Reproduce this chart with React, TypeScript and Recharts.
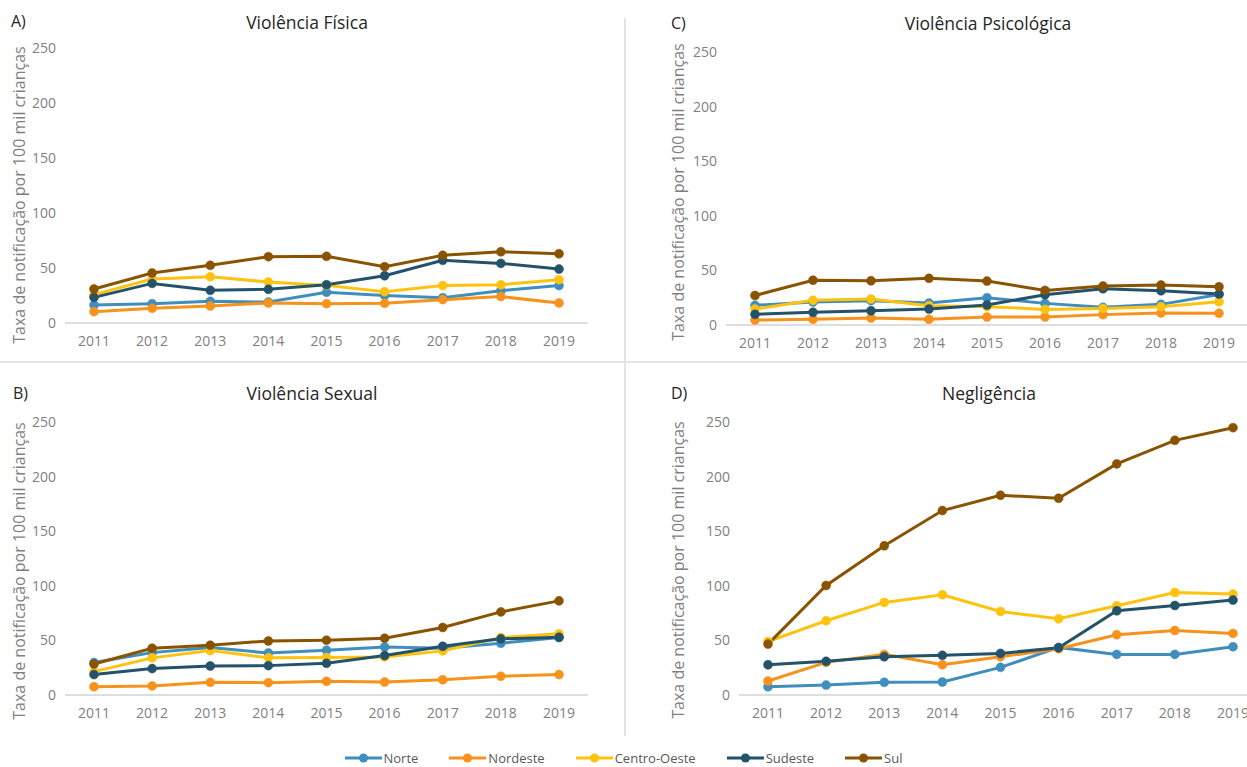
import React from 'react';
import { LineChart, Line, XAxis, YAxis, Legend } from 'recharts';

const years = ['2011', '2012', '2013', '2014', '2015', '2016', '2017', '2018', '2019'];
const yTicks = [0, 50, 100, 150, 200, 250];

const regions = ['Norte', 'Nordeste', 'Centro-Oeste', 'Sudeste', 'Sul'];
const regionColors = ['#3f8ebe', '#f7921c', '#ffc30f', '#23526a', '#8a5300'];

// A) Violência Física
const fisNorte = [16.4, 17.6, 19.7, 19, 27.9, 25, 23, 29.4, 34];
const fisNordeste = [10.3, 13.3, 15.5, 18.2, 17.6, 17.9, 21.2, 24, 18.2];
const fisCentroOeste = [25.8, 40, 42, 37.3, 34.2, 28.5, 34, 34.8, 39.4];
const fisSudeste = [23.3, 36, 29.7, 30.6, 34.8, 43, 57, 54.2, 49];
const fisSul = [30.9, 45.5, 52.4, 60.3, 60.6, 51.2, 61.5, 64.8, 63];

// B) Violência Sexual
const sexNorte = [29.7, 38.8, 43.4, 38.5, 41, 44, 42.8, 47.4, 52.6];
const sexNordeste = [7.6, 8.3, 11.6, 11.3, 12.5, 11.9, 14, 17.1, 18.7];
const sexCentroOeste = [21.4, 34, 40.7, 34, 34.3, 34.9, 40.4, 52.6, 56];
const sexSudeste = [18.7, 24.2, 26.6, 26.9, 29, 36.1, 44.6, 51.4, 52.9];
const sexSul = [28.4, 42.8, 45.6, 49.5, 50.2, 52, 61.8, 76.1, 86.2];

// C) Violência Psicológica
const psiNorte = [18, 21, 22.3, 20.1, 25, 19.8, 16.2, 18.9, 28];
const psiNordeste = [4.6, 5.2, 6.4, 5.2, 7.3, 7.3, 9.5, 11, 10.7];
const psiCentroOeste = [14.6, 22.6, 23.8, 17.7, 16.8, 14.3, 15.2, 16.8, 21.3];
const psiSudeste = [9.8, 11.6, 13.1, 14.6, 18.3, 27.7, 33.2, 31.4, 28.4];
const psiSul = [27, 41, 40.5, 42.7, 40.2, 31.7, 35.7, 36.6, 35];

// D) Negligência
const negNorte = [7.6, 9.1, 11.6, 11.9, 25.3, 43.6, 37.2, 37.2, 44.2];
const negNordeste = [12.8, 29.9, 37.2, 27.7, 35, 42.4, 55.2, 59.1, 56.4];
const negCentroOeste = [49, 68, 84.8, 91.8, 76.5, 69.8, 81.7, 93.9, 92.4];
const negSudeste = [27.7, 30.8, 35, 36.3, 38.1, 43.3, 77.1, 82, 86.9];
const negSul = [46.6, 100.3, 136.6, 168.9, 182.9, 180.2, 211.6, 233.2, 244.8];

const buildData = (series: number[][]) =>
  years.map((year, i) => {
    const row: any = { year };
    regions.forEach((r, k) => {
      row[r] = series[k][i];
    });
    return row;
  });

const FONT = '"Open Sans", sans-serif';
const GRAY = '#7f7f7f';
const Y_LABEL = 'Taxa de notificação por 100 mil crianças';

// keep the legend in series order (recharts sorts it by name otherwise)
const renderLegend = ({ payload }: any) => {
  const items = [...(payload || [])].sort(
    (a: any, b: any) => regions.indexOf(a.value) - regions.indexOf(b.value)
  );
  return (
    <div
      style={{
        display: 'flex',
        justifyContent: 'center',
        alignItems: 'center',
        gap: 31,
        height: 18,
        lineHeight: '18px',
        fontFamily: FONT,
        fontSize: 13,
        color: '#595959',
      }}
    >
      {items.map((p: any) => (
        <div key={p.value} style={{ display: 'flex', alignItems: 'center' }}>
          <svg width={37} height={10}>
            <line x1={0} y1={5} x2={37} y2={5} stroke={p.color} strokeWidth={3} />
            <circle cx={18.5} cy={5} r={4.5} fill={p.color} />
          </svg>
          <span style={{ marginLeft: 2 }}>{p.value}</span>
        </div>
      ))}
    </div>
  );
};

interface PanelProps {
  data: any[];
  left: number;
  top: number;
  width: number;
  height: number;
  margin: { top: number; right: number; bottom: number; left: number };
  labelX: number;
  labelY: number;
  withLegend?: boolean;
}

const Panel: React.FC<PanelProps> = ({ data, left, top, width, height, margin, labelX, labelY, withLegend }) => {
  const yLabel = () => (
    <text
      x={labelX}
      y={labelY}
      transform={`rotate(-90, ${labelX}, ${labelY})`}
      textAnchor="middle"
      dominantBaseline="central"
      fill={GRAY}
      fontSize={16}
      fontFamily={FONT}
    >
      {Y_LABEL}
    </text>
  );

  return (
    <div style={{ position: 'absolute', left, top }}>
      <LineChart width={width} height={height} data={data} margin={margin}>
        <XAxis
          dataKey="year"
          padding={{ left: 29, right: 29 }}
          tickLine={false}
          axisLine={{ stroke: '#dedede', strokeWidth: 2 }}
          tickMargin={7}
          height={30}
          tick={{ fontSize: 14, fill: GRAY, fontFamily: FONT }}
          interval={0}
        />
        <YAxis
          domain={[0, 250]}
          ticks={yTicks}
          width={60}
          tickLine={false}
          axisLine={false}
          tickMargin={3}
          tick={{ fontSize: 14, fill: GRAY, fontFamily: FONT }}
          label={yLabel}
        />
        {regions.map((r, k) => (
          <Line
            key={r}
            type="linear"
            dataKey={r}
            name={r}
            stroke={regionColors[k]}
            strokeWidth={3}
            dot={{ r: 4.5, fill: regionColors[k], stroke: regionColors[k], strokeWidth: 0.5 }}
            isAnimationActive={false}
          />
        ))}
        {withLegend && (
          <Legend
            layout="horizontal"
            verticalAlign="middle"
            align="center"
            content={renderLegend}
            wrapperStyle={{ position: 'absolute', left: 0, top: 749 - top, width: 1247, height: 18 }}
          />
        )}
      </LineChart>
    </div>
  );
};

const textStyle = (left: number, top: number, extra: any = {}): React.CSSProperties => ({
  position: 'absolute',
  left,
  top,
  fontFamily: FONT,
  lineHeight: '20px',
  whiteSpace: 'nowrap',
  ...extra,
});

export default function App() {
  const fisData = buildData([fisNorte, fisNordeste, fisCentroOeste, fisSudeste, fisSul]);
  const sexData = buildData([sexNorte, sexNordeste, sexCentroOeste, sexSudeste, sexSul]);
  const psiData = buildData([psiNorte, psiNordeste, psiCentroOeste, psiSudeste, psiSul]);
  const negData = buildData([negNorte, negNordeste, negCentroOeste, negSudeste, negSul]);

  return (
    <div
      style={{
        position: 'absolute',
        left: 0,
        top: 0,
        width: 1247,
        height: 767,
        overflow: 'hidden',
        background: '#ffffff',
      }}
    >
      {/* dividers */}
      <div style={{ position: 'absolute', left: 624, top: 18, width: 2, height: 718, background: '#e3e3e3' }} />
      <div style={{ position: 'absolute', left: 0, top: 361, width: 1247, height: 2, background: '#e3e3e3' }} />

      <Panel
        data={fisData}
        left={0}
        top={0}
        width={600}
        height={360}
        margin={{ top: 48, right: 12, bottom: 7, left: 5 }}
        labelX={19}
        labelY={195}
      />
      <Panel
        data={psiData}
        left={620}
        top={0}
        width={630}
        height={360}
        margin={{ top: 52, right: 2, bottom: 5, left: 46 }}
        labelX={58}
        labelY={192}
      />
      <Panel
        data={negData}
        left={620}
        top={365}
        width={642}
        height={370}
        margin={{ top: 57, right: 0, bottom: 10, left: 59 }}
        labelX={58}
        labelY={205}
      />
      {/* panel B is taller so the shared legend stays inside its box */}
      <Panel
        data={sexData}
        left={0}
        top={365}
        width={600}
        height={402}
        margin={{ top: 57, right: 12, bottom: 42, left: 5 }}
        labelX={19}
        labelY={206}
        withLegend
      />

      <div style={textStyle(11, 11, { fontSize: 16, color: '#262626' })}>A)</div>
      <div style={textStyle(671, 13, { fontSize: 16, color: '#262626' })}>C)</div>
      <div style={textStyle(13, 383, { fontSize: 16, color: '#262626' })}>B)</div>
      <div style={textStyle(671, 383, { fontSize: 16, color: '#262626' })}>D)</div>

      <div style={textStyle(157, 12, { fontSize: 17.5, color: '#262626', width: 300, textAlign: 'center' })}>Violência Física</div>
      <div style={textStyle(838, 13, { fontSize: 17.5, color: '#262626', width: 300, textAlign: 'center' })}>Violência Psicológica</div>
      <div style={textStyle(162, 383, { fontSize: 17.5, color: '#262626', width: 300, textAlign: 'center' })}>Violência Sexual</div>
      <div style={textStyle(839, 383, { fontSize: 17.5, color: '#262626', width: 300, textAlign: 'center' })}>Negligência</div>
    </div>
  );
}
